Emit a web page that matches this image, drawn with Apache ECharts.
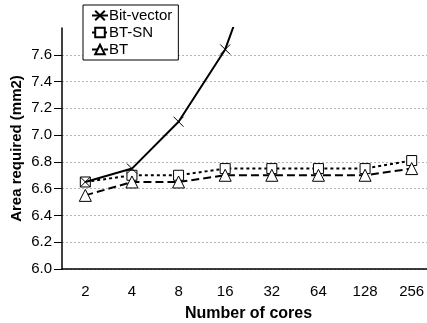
<!DOCTYPE html>
<html>
<head>
<meta charset="utf-8">
<script src="https://cdn.jsdelivr.net/npm/echarts@6/dist/echarts.min.js"></script>
<style>
  html, body { margin: 0; padding: 0; background: #fff; }
  #chart { width: 427px; height: 323px; }
</style>
</head>
<body>
<div id="chart"></div>
<script>
// 横轴：核心数
const cores = ['2', '4', '8', '16', '32', '64', '128', '256'];
// 面积 (mm2)
const bitVector = [6.65, 6.75, 7.1, 7.64, 8.6, 9.9, 12.5, 17.7];
const btSn = [6.65, 6.7, 6.7, 6.75, 6.75, 6.75, 6.75, 6.81];
const bt = [6.55, 6.65, 6.65, 6.7, 6.7, 6.7, 6.7, 6.75];
const yTicks = [6.0, 7.8, 0.2]; // min, max, interval

const chart = echarts.init(document.getElementById('chart'));
const font = 'Liberation Sans, Arial, sans-serif';
const crossPath = 'path://M0,0L10,10M10,0L0,10';

// 最上面一条网格线不画
const gridColors = [];
for (let i = 0; i < 9; i++) gridColors.push('#b5b5b5');
gridColors.push('rgba(0,0,0,0)');

const option = {
  animation: false,
  backgroundColor: '#fff',
  grid: { left: 62, top: 28, width: 373, height: 241, outerBoundsMode: 'none', containLabel: false },
  legend: {
    orient: 'vertical',
    left: 83,
    top: 5,
    padding: [3, 6, 3, 8],
    itemGap: 2,
    itemWidth: 16,
    itemHeight: 12,
    backgroundColor: '#fff',
    borderColor: '#000',
    borderWidth: 1,
    textStyle: { fontFamily: font, fontSize: 15, color: '#000', padding: [0, 0, 0, -4] },
    data: ['Bit-vector', 'BT-SN', 'BT']
  },
  xAxis: {
    type: 'category',
    data: cores,
    boundaryGap: true,
    name: 'Number of cores',
    nameLocation: 'middle',
    nameGap: 37,
    nameMoveOverlap: false,
    nameTextStyle: { fontFamily: font, fontSize: 16, fontWeight: 'bold', color: '#000' },
    axisLine: { lineStyle: { color: '#000', width: 1.5 } },
    axisTick: { alignWithLabel: true, length: 8, lineStyle: { color: '#000' } },
    axisLabel: { fontFamily: font, fontSize: 15, color: '#000', margin: 15 },
    splitLine: { show: false }
  },
  yAxis: {
    type: 'value',
    min: yTicks[0],
    max: yTicks[1],
    interval: yTicks[2],
    name: 'Area required (mm2)',
    nameLocation: 'middle',
    nameGap: 38,
    nameMoveOverlap: false,
    nameTextStyle: { fontFamily: font, fontSize: 15, fontWeight: 'bold', color: '#000' },
    axisLine: { show: true, lineStyle: { color: '#000', width: 1.5 } },
    axisTick: { show: true, length: 8, lineStyle: { color: '#000' } },
    axisLabel: {
      fontFamily: font, fontSize: 15, color: '#000', margin: 10,
      showMaxLabel: false,
      formatter: v => v.toFixed(1)
    },
    splitLine: { show: true, lineStyle: { color: gridColors, type: [2, 2], width: 1 } }
  },
  series: [
    {
      name: 'Bit-vector',
      type: 'line',
      data: bitVector,
      symbol: crossPath,
      symbolSize: 10,
      itemStyle: { color: '#000', borderColor: '#000', borderWidth: 1 },
      lineStyle: { color: '#000', width: 2 },
      z: 3
    },
    {
      name: 'BT-SN',
      type: 'line',
      data: btSn,
      symbol: 'rect',
      symbolSize: 10,
      itemStyle: { color: '#fff', borderColor: '#000', borderWidth: 1 },
      lineStyle: { color: '#000', width: 2, type: [3, 3] },
      z: 2
    },
    {
      name: 'BT',
      type: 'line',
      data: bt,
      symbol: 'triangle',
      symbolSize: 12,
      itemStyle: { color: '#fff', borderColor: '#000', borderWidth: 1 },
      lineStyle: { color: '#000', width: 2, type: [8, 4] },
      z: 2
    }
  ]
};

chart.setOption(option);
</script>
</body>
</html>
